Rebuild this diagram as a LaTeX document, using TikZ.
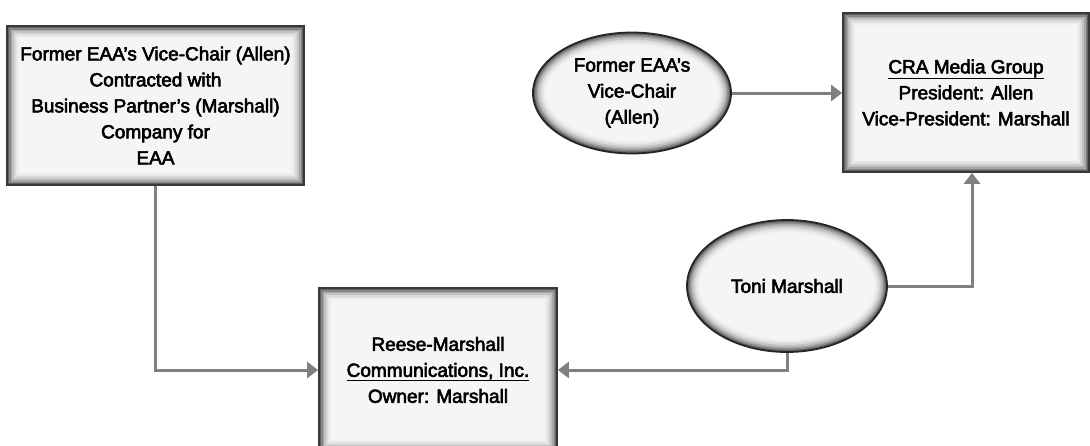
\documentclass[tikz,border=0pt]{standalone}
\usepackage{fontspec}
\setmainfont{Liberation Sans}[BoldFont=Liberation Sans, BoldFeatures={FakeBold=3}]
\usetikzlibrary{arrows.meta,shapes.geometric,calc}
\newcommand{\diagfont}{\fontsize{19}{26}\selectfont\bfseries}
\tikzset{
  glowbox/.style={rectangle, draw=black!78, line width=1.8pt, fill=black!4,
    inner sep=0pt, align=center, font=\diagfont,
    path picture={
      \foreach \w/\c in {26/5, 22/9, 18/15, 14/24, 10/35, 7/47, 4/62}{
        \draw[line width=\w pt, black!\c]
          (path picture bounding box.south west) rectangle (path picture bounding box.north east);
      }
    }},
  glowell/.style={ellipse, draw=black!85, line width=1.8pt, fill=black!4,
    inner sep=0pt, align=center, font=\diagfont,
    path picture={
      \foreach \w/\c in {26/5, 22/9, 18/15, 14/24, 10/35, 7/47, 4/62}{
        \draw[line width=\w pt, black!\c]
          let \p1=(path picture bounding box.south west),
              \p2=(path picture bounding box.north east)
          in ($(\p1)!0.5!(\p2)$) ellipse [x radius={(\x2-\x1)/2}, y radius={(\y2-\y1)/2}];
      }
    }},
  link/.style={draw=black!50, line width=3pt,
    -{Triangle[length=11pt,width=16pt]}},
}
\begin{document}
\begin{tikzpicture}[x=1pt,y=-1pt]
\useasboundingbox (0,0) rectangle (1090,445);
\clip (0,0) rectangle (1090,445);
\node[glowbox, minimum width=297pt, minimum height=159pt] (allenbox) at (155.5,105.5)
  {Former EAA’s Vice-Chair (Allen)\\Contracted with\\Business Partner’s (Marshall)\\Company for\\EAA};
\node[glowbox, minimum width=246pt, minimum height=159pt] (cra) at (966,92.5)
  {\underline{CRA Media Group}\\President: Allen\\Vice-President: Marshall};
\node[glowbox, minimum width=238pt, minimum height=164pt] (reese) at (438,370)
  {Reese-Marshall\\\underline{Communications, Inc.}\\Owner: Marshall};
\node[glowell, minimum width=198pt, minimum height=121pt] (allen) at (632,93)
  {Former EAA’s\\Vice-Chair\\(Allen)};
\node[glowell, minimum width=200pt, minimum height=132pt] (toni) at (787,286)
  {Toni Marshall};
\draw[link] (allen.east) -- (allen.east -| cra.west);
\draw[link] (allenbox.south) |- (reese.west);
\draw[link] (toni.south) |- (reese.east);
\coordinate (craIn) at ([xshift=6pt]cra.south);
\draw[link] (toni.east) -| (craIn);
\end{tikzpicture}
\end{document}
